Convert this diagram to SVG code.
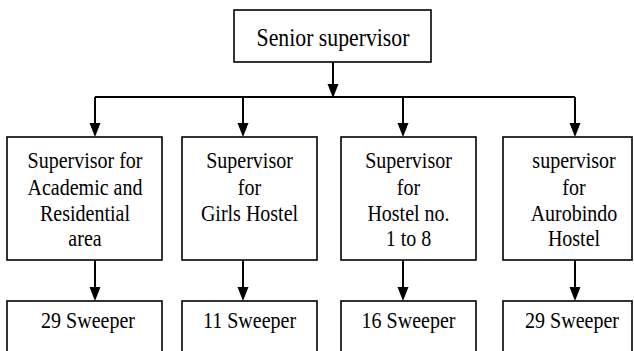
<svg xmlns="http://www.w3.org/2000/svg" width="634" height="351" viewBox="0 0 634 351">
<style>
.box{fill:#fff;stroke:#000;stroke-width:1.6}
.conn{fill:none;stroke:#000;stroke-width:2}
.head{fill:#000}
</style>
<rect width="634" height="351" fill="#fff"/>
<g id="connectors">
<path class="conn" d="M333,62 V86"/>
<polygon class="head" points="327.5,84 338.5,84 333,98"/>
<path class="conn" d="M95,97 H575"/>
<path class="conn" d="M95,97 V125"/>
<polygon class="head" points="89.5,123 100.5,123 95,137"/>
<path class="conn" d="M243,97 V125"/>
<polygon class="head" points="237.5,123 248.5,123 243,137"/>
<path class="conn" d="M403,97 V125"/>
<polygon class="head" points="397.5,123 408.5,123 403,137"/>
<path class="conn" d="M575,97 V125"/>
<polygon class="head" points="569.5,123 580.5,123 575,137"/>
<path class="conn" d="M95,260 V289"/>
<polygon class="head" points="89.5,287 100.5,287 95,301"/>
<path class="conn" d="M243,260 V289"/>
<polygon class="head" points="237.5,287 248.5,287 243,301"/>
<path class="conn" d="M403,260 V289"/>
<polygon class="head" points="397.5,287 408.5,287 403,301"/>
<path class="conn" d="M575,260 V289"/>
<polygon class="head" points="569.5,287 580.5,287 575,301"/>
</g>
<g id="senior">
<rect class="box" x="234" y="10" width="197" height="52"/>
<text font-family="Liberation Serif" font-size="25" text-anchor="middle" transform="translate(333,46) scale(0.87,1)">Senior supervisor</text>
</g>
<g id="sup-academic">
<rect class="box" x="7" y="137" width="155" height="123"/>
<text font-family="Liberation Serif" font-size="23" text-anchor="middle" transform="translate(85,168) scale(0.87,1)">Supervisor for</text>
<text font-family="Liberation Serif" font-size="23" text-anchor="middle" transform="translate(85,195) scale(0.87,1)">Academic and</text>
<text font-family="Liberation Serif" font-size="23" text-anchor="middle" transform="translate(85,221) scale(0.87,1)">Residential</text>
<text font-family="Liberation Serif" font-size="23" text-anchor="middle" transform="translate(85,246) scale(0.87,1)">area</text>
</g>
<g id="sup-girls">
<rect class="box" x="182" y="137" width="135" height="123"/>
<text font-family="Liberation Serif" font-size="23" text-anchor="middle" transform="translate(249.5,168) scale(0.87,1)">Supervisor</text>
<text font-family="Liberation Serif" font-size="23" text-anchor="middle" transform="translate(249.5,195) scale(0.87,1)">for</text>
<text font-family="Liberation Serif" font-size="23" text-anchor="middle" transform="translate(249.5,221) scale(0.87,1)">Girls Hostel</text>
</g>
<g id="sup-hostel">
<rect class="box" x="341" y="137" width="135" height="123"/>
<text font-family="Liberation Serif" font-size="23" text-anchor="middle" transform="translate(408.5,168) scale(0.87,1)">Supervisor</text>
<text font-family="Liberation Serif" font-size="23" text-anchor="middle" transform="translate(408.5,195) scale(0.87,1)">for</text>
<text font-family="Liberation Serif" font-size="23" text-anchor="middle" transform="translate(408.5,221) scale(0.87,1)">Hostel no.</text>
<text font-family="Liberation Serif" font-size="23" text-anchor="middle" transform="translate(408.5,246) scale(0.87,1)">1 to 8</text>
</g>
<g id="sup-aurobindo">
<rect class="box" x="503" y="137" width="129" height="123"/>
<text font-family="Liberation Serif" font-size="23" text-anchor="middle" transform="translate(574,168) scale(0.87,1)">supervisor</text>
<text font-family="Liberation Serif" font-size="23" text-anchor="middle" transform="translate(574,195) scale(0.87,1)">for</text>
<text font-family="Liberation Serif" font-size="23" text-anchor="middle" transform="translate(574,221) scale(0.87,1)">Aurobindo</text>
<text font-family="Liberation Serif" font-size="23" text-anchor="middle" transform="translate(574,246) scale(0.87,1)">Hostel</text>
</g>
<g id="sw1">
<rect class="box" x="7" y="301" width="155" height="60"/>
<text font-family="Liberation Serif" font-size="23" text-anchor="middle" transform="translate(88,328) scale(0.87,1)">29 Sweeper</text>
</g>
<g id="sw2">
<rect class="box" x="182" y="301" width="135" height="60"/>
<text font-family="Liberation Serif" font-size="23" text-anchor="middle" transform="translate(249.5,328) scale(0.87,1)">11 Sweeper</text>
</g>
<g id="sw3">
<rect class="box" x="341" y="301" width="135" height="60"/>
<text font-family="Liberation Serif" font-size="23" text-anchor="middle" transform="translate(408.5,328) scale(0.87,1)">16 Sweeper</text>
</g>
<g id="sw4">
<rect class="box" x="503" y="301" width="129" height="60"/>
<text font-family="Liberation Serif" font-size="23" text-anchor="middle" transform="translate(572,328) scale(0.87,1)">29 Sweeper</text>
</g>
</svg>
